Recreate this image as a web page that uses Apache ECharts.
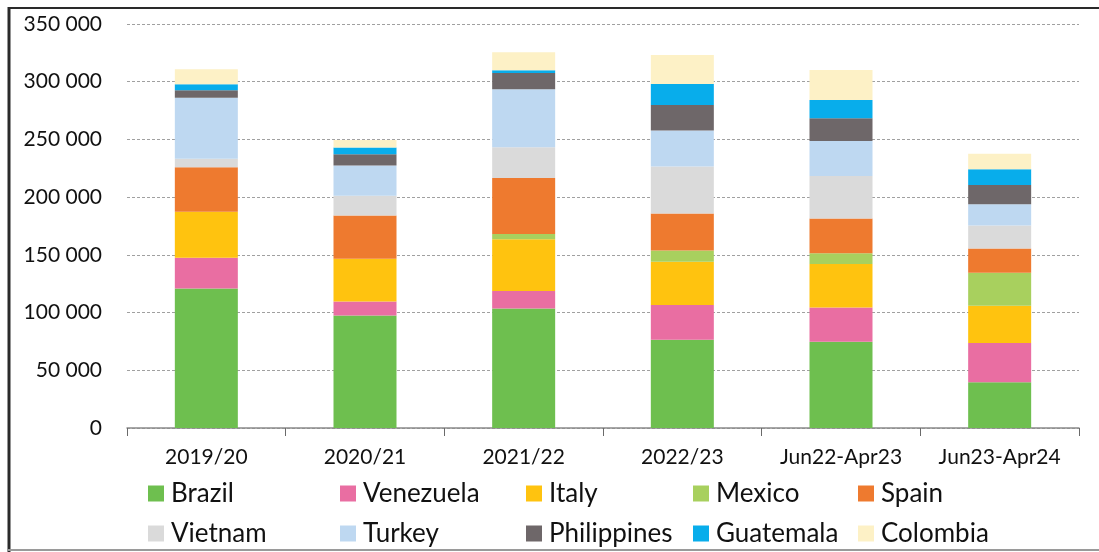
<!DOCTYPE html>
<html>
<head>
<meta charset="utf-8">
<script src="https://cdn.jsdelivr.net/npm/echarts@6/dist/echarts.min.js"></script>
<style>
  html, body { margin: 0; padding: 0; background: #fff; }
  #chart { width: 1099px; height: 552px; }
</style>
</head>
<body>
<div id="chart"></div>
<script>
// Seasons / periods on the category axis
var categories = ['2019/20', '2020/21', '2021/22', '2022/23', 'Jun22-Apr23', 'Jun23-Apr24'];

// Stacked values per origin country
var brazil      = [120900, 97500, 103500, 76500, 74700, 39600];
var venezuela   = [26500, 12100, 15100, 30000, 29800, 34000];
var italy       = [39900, 37000, 45000, 37500, 37500, 32300];
var mexico      = [0, 0, 4400, 9800, 9300, 28600];
var spain       = [38700, 37500, 48500, 32000, 30300, 21100];
var vietnam     = [7200, 17000, 26800, 40700, 36800, 19900];
var turkey      = [53000, 26300, 50200, 31200, 30300, 18400];
var philippines = [6400, 9800, 14100, 22200, 19700, 16700];
var guatemala   = [5200, 5700, 2400, 18200, 15800, 13600];
var colombia    = [13000, 6500, 15500, 25100, 26000, 13300];

// Y axis ticks
var yMin = 0, yMax = 350000, yStep = 50000;

var seriesDefs = [
  { name: 'Brazil', data: brazil, color: '#6ebf4f' },
  { name: 'Venezuela', data: venezuela, color: '#e96ea2' },
  { name: 'Italy', data: italy, color: '#ffc30f' },
  { name: 'Mexico', data: mexico, color: '#a8d05e' },
  { name: 'Spain', data: spain, color: '#ee7a2f' },
  { name: 'Vietnam', data: vietnam, color: '#dadada' },
  { name: 'Turkey', data: turkey, color: '#bed8f1' },
  { name: 'Philippines', data: philippines, color: '#6e6769' },
  { name: 'Guatemala', data: guatemala, color: '#08adeb' },
  { name: 'Colombia', data: colombia, color: '#fdf1c6' }
];

var FONT = 'Lato';

function fmt(v) {
  return String(v).replace(/\B(?=(\d{3})+(?!\d))/g, ' ');
}

// Legend laid out as 5 columns of 2 rows
var legendCols = [
  { left: 148, items: ['Brazil', 'Vietnam'] },
  { left: 340, items: ['Venezuela', 'Turkey'] },
  { left: 526, items: ['Italy', 'Philippines'] },
  { left: 693, items: ['Mexico', 'Guatemala'] },
  { left: 858, items: ['Spain', 'Colombia'] }
];

var legends = legendCols.map(function (c) {
  return {
    orient: 'vertical',
    left: c.left,
    top: 480,
    padding: 0,
    itemGap: 13,
    itemWidth: 16,
    itemHeight: 16,
    icon: 'rect',
    selectedMode: false,
    data: c.items,
    textStyle: { fontFamily: FONT, fontSize: 26, color: '#111', lineHeight: 27, padding: [0, 0, 0, 2] }
  };
});

var chart = echarts.init(document.getElementById('chart'), null, { renderer: 'canvas' });

chart.setOption({
  animation: false,
  backgroundColor: '#fff',
  grid: { left: 127, right: 20, top: 24, bottom: 124, containLabel: false },
  legend: legends,
  xAxis: {
    type: 'category',
    data: categories,
    axisLine: { lineStyle: { color: '#8a8a8a', width: 1.5 } },
    axisTick: { show: true, length: 8, lineStyle: { color: '#6a6a6a' } },
    axisLabel: { fontFamily: FONT, fontSize: 21, color: '#111', margin: 19, interval: 0 }
  },
  yAxis: {
    type: 'value',
    min: yMin,
    max: yMax,
    interval: yStep,
    axisLine: { show: false },
    axisTick: { show: false },
    axisLabel: { fontFamily: FONT, fontSize: 21, color: '#111', margin: 25, formatter: fmt },
    splitLine: { lineStyle: { color: '#a0a0a0', type: [3, 2], width: 1 } }
  },
  series: seriesDefs.map(function (s) {
    return {
      name: s.name,
      type: 'bar',
      stack: 'total',
      barWidth: 63,
      data: s.data,
      itemStyle: { color: s.color }
    };
  }),
  graphic: [
    { type: 'line', shape: { x1: 9, y1: 7, x2: 9, y2: 552 }, style: { stroke: '#2a2a2a', lineWidth: 3 } },
    { type: 'line', shape: { x1: 8, y1: 8, x2: 1099, y2: 8 }, style: { stroke: '#2a2a2a', lineWidth: 2 } },
    { type: 'line', shape: { x1: 8, y1: 550, x2: 1099, y2: 550 }, style: { stroke: '#9a9a9a', lineWidth: 2 } }
  ]
});
</script>
</body>
</html>
